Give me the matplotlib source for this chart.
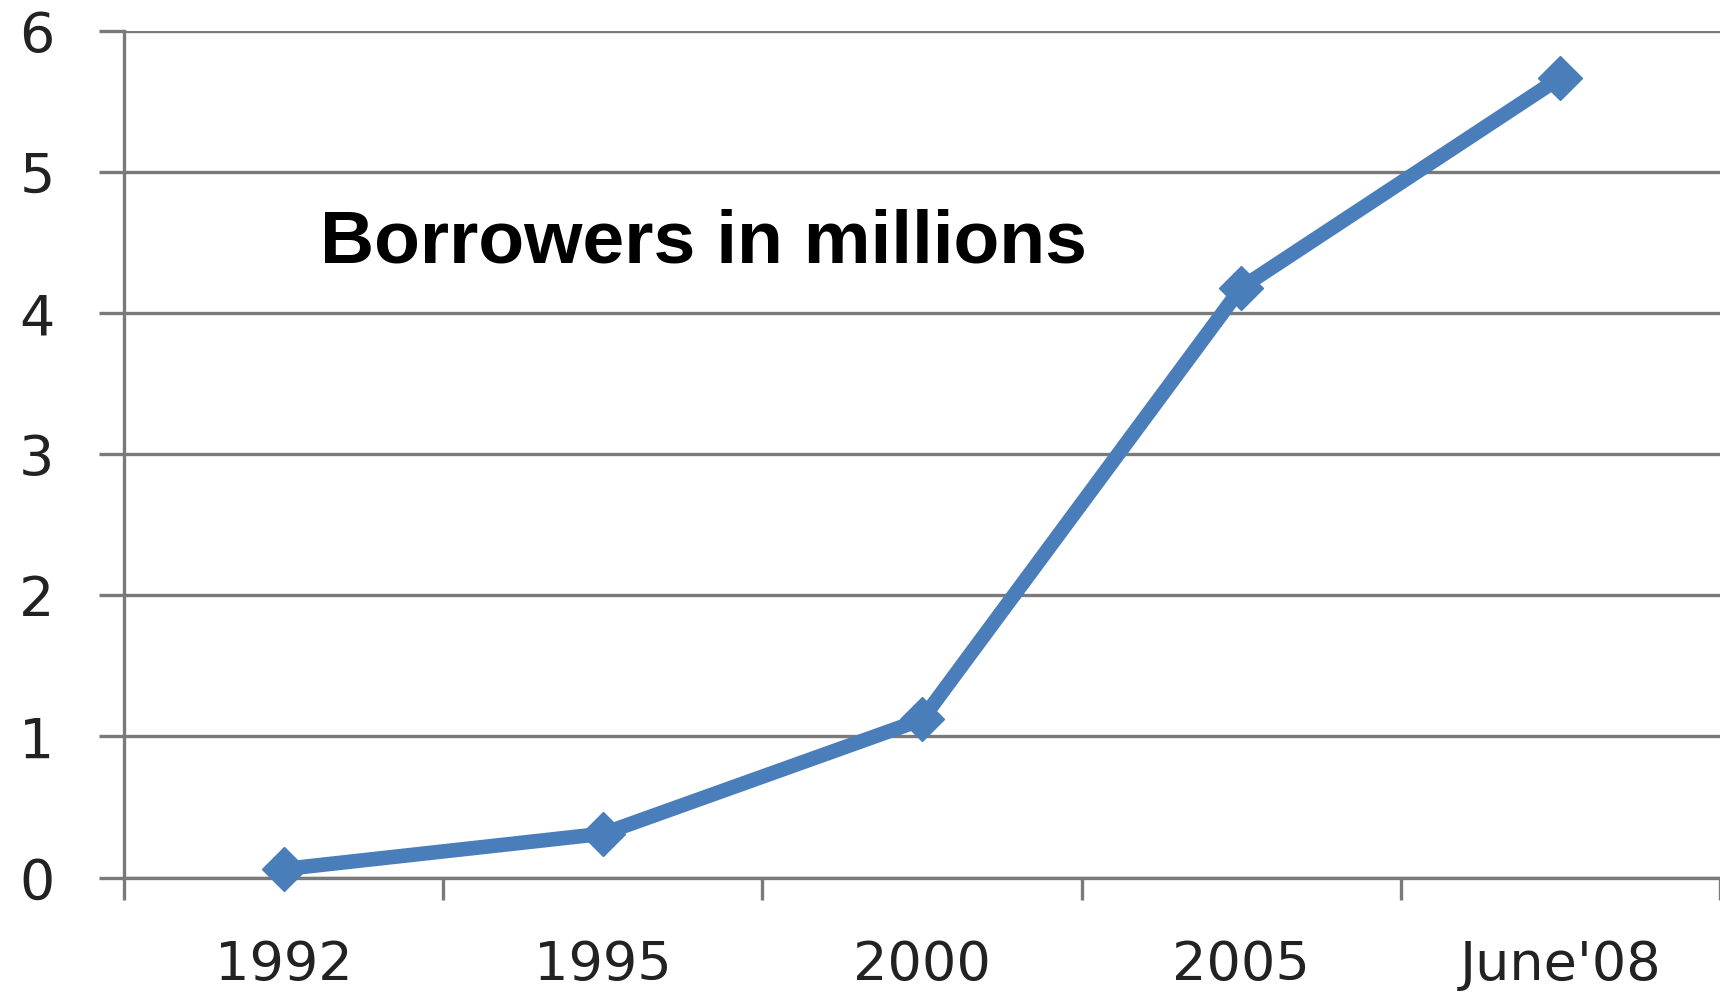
import matplotlib.pyplot as plt
from matplotlib.ticker import FixedLocator

# data
periods = ['1992', '1995', '2000', '2005', "June'08"]
borrowers = [0.06, 0.31, 1.12, 4.18, 5.67]
y_ticks = [0, 1, 2, 3, 4, 5, 6]

line_blue = '#4a7ebb'
grid_gray = '#7a7a7a'

fig = plt.figure(figsize=(17.2, 9.99), dpi=100, facecolor='white')
ax = fig.add_axes([0.0721, 0.1216, 0.9279, 0.8474])

x = list(range(len(periods)))
ax.plot(x, borrowers, color=line_blue, linewidth=10.5, marker='D',
        markersize=22, markeredgecolor=line_blue, zorder=3, clip_on=False)

ax.set_xlim(-0.5, len(periods) - 0.5)
ax.set_ylim(0, 6)

# horizontal gridlines, gray axes
ax.set_yticks(y_ticks)
ax.yaxis.grid(True, color=grid_gray, linewidth=2.4)
ax.set_axisbelow(True)
for side in ['top', 'right']:
    ax.spines[side].set_visible(False)
for side in ['left', 'bottom']:
    ax.spines[side].set_color(grid_gray)
    ax.spines[side].set_linewidth(2.4)

ax.tick_params(axis='y', length=18, width=2.4, color=grid_gray,
               labelsize=40, labelcolor='#222222', pad=32)

# category labels centred, tick marks on the boundaries
ax.set_xticks(x)
ax.set_xticklabels(periods)
ax.xaxis.set_minor_locator(FixedLocator([i - 0.5 for i in range(len(periods) + 1)]))
ax.tick_params(axis='x', which='major', length=0, labelsize=39,
               labelcolor='#222222', pad=44)
ax.tick_params(axis='x', which='minor', length=16, width=2.4, color=grid_gray)

ax.text(0.123, 0.75, 'Borrowers in millions', transform=ax.transAxes,
        fontsize=54, fontweight='bold', family='Liberation Sans',
        color='black', va='center', ha='left')

fig.savefig('out.png', dpi=100, facecolor='white')
